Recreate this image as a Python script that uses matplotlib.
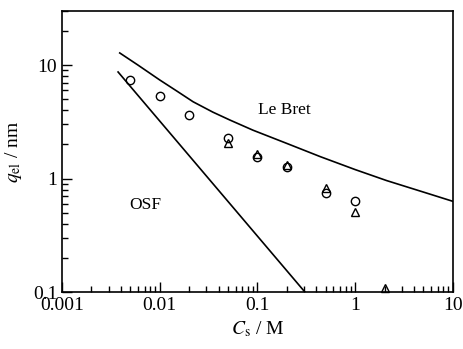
import matplotlib
matplotlib.use("Agg")
import matplotlib.pyplot as plt
from matplotlib.ticker import FixedLocator, FixedFormatter, LogLocator, NullFormatter

plt.rcParams['font.family'] = ['Liberation Serif', 'DejaVu Serif']
plt.rcParams['mathtext.fontset'] = 'stix'

# circles
cs_circ = [0.005, 0.01, 0.02, 0.05, 0.1, 0.2, 0.5, 1.0]
q_circ = [7.4, 5.3, 3.6, 2.3, 1.55, 1.26, 0.74, 0.64]
# triangles
cs_tri = [0.05, 0.1, 0.2, 0.5, 1.0, 2.0]
q_tri = [2.05, 1.65, 1.33, 0.82, 0.51, 0.108]

# Le Bret curve
cs_lebret = [0.0039, 0.006, 0.01, 0.015, 0.022, 0.035, 0.0523, 0.09, 0.2, 0.44, 1.0, 2.1, 5.0, 10.0]
q_lebret = [12.8, 10.0, 7.4, 5.9, 4.75, 3.85, 3.28, 2.67, 2.04, 1.56, 1.2, 0.96, 0.76, 0.63]

# OSF line
cs_osf = [0.00375, 0.306]
q_osf = [8.7, 0.1]

fig = plt.figure(figsize=(4.64, 3.49), dpi=100)
ax = fig.add_axes([0.1336, 0.1633, 0.8424, 0.8052])

ax.plot(cs_lebret, q_lebret, color='black', lw=1.2)
ax.plot(cs_osf, q_osf, color='black', lw=1.2)
ax.plot(cs_circ, q_circ, 'o', mfc='none', mec='black', ms=6, mew=1.0, clip_on=False)
ax.plot(cs_tri, q_tri, '^', mfc='none', mec='black', ms=6, mew=1.0, clip_on=False)

ax.set_xscale('log')
ax.set_yscale('log')
ax.set_xlim(0.001, 10)
ax.set_ylim(0.1, 30)

ax.xaxis.set_major_locator(FixedLocator([0.001, 0.01, 0.1, 1, 10]))
ax.xaxis.set_major_formatter(FixedFormatter(['0.001', '0.01', '0.1', '1', '10']))
ax.yaxis.set_major_locator(FixedLocator([0.1, 1, 10]))
ax.yaxis.set_major_formatter(FixedFormatter(['0.1', '1', '10']))
ax.xaxis.set_minor_locator(LogLocator(subs=range(2, 10)))
ax.yaxis.set_minor_locator(LogLocator(subs=range(2, 10)))
ax.xaxis.set_minor_formatter(NullFormatter())
ax.yaxis.set_minor_formatter(NullFormatter())

ax.tick_params(which='both', direction='in', top=False, right=False, labelsize=14)
ax.tick_params(which='major', length=7, width=1)
ax.tick_params(which='minor', length=4, width=1)
for s in ax.spines.values():
    s.set_linewidth(1.2)

ax.text(0.19, 4.0, 'Le Bret', fontsize=12.5, ha='center', va='center')
ax.text(0.0071, 0.58, 'OSF', fontsize=12.5, ha='center', va='center')

ax.set_xlabel(r'$C_{\rm s}$ / M', fontsize=14)
ax.set_ylabel(r'$q_{\rm el}$ / nm', fontsize=14, labelpad=6)

fig.savefig('out.png', dpi=100)
